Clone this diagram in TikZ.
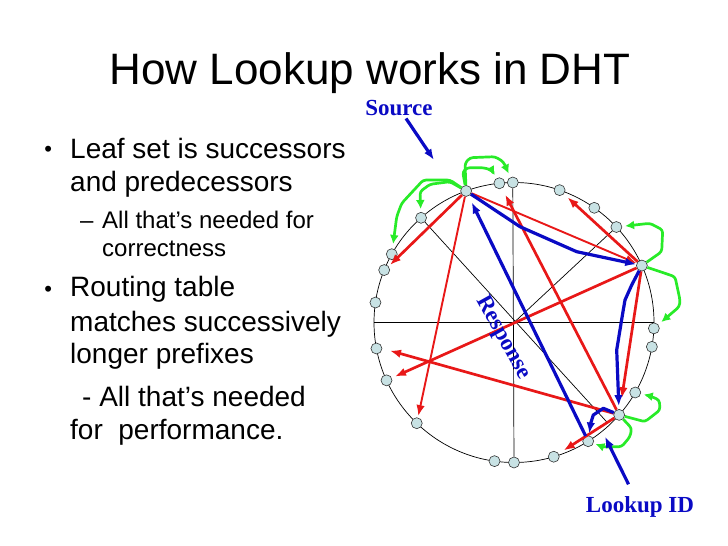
\documentclass[tikz,border=0pt]{standalone}
\usepackage{fontspec}
\setmainfont{Liberation Sans}
\newfontfamily\labelfont{Liberation Serif}
\usetikzlibrary{arrows.meta}
\definecolor{ringred}{RGB}{232,24,24}
\definecolor{ringblue}{RGB}{10,10,196}
\definecolor{ringgreen}{RGB}{40,235,40}
\definecolor{peerfill}{RGB}{200,226,228}
\tikzstyle{peer}=[circle,fill=peerfill,draw=black!80,line width=0.6pt,minimum size=11pt,inner sep=0pt]
\tikzstyle{chord}=[draw,black,line width=0.7pt]
\tikzstyle{route}=[draw,ringred,line width=2.7pt,-{Latex[length=11pt,width=8.5pt]}]
\tikzstyle{thinroute}=[route,line width=1.9pt]
\tikzstyle{lookup}=[draw,ringblue,line width=3.2pt,line join=round,-{Latex[length=11pt,width=8.5pt]}]
\tikzstyle{leaf}=[draw,ringgreen,line width=2.7pt,line join=round,rounded corners=3pt,-{Latex[length=9pt,width=9pt]}]
\tikzstyle{bodytext}=[anchor=base west,inner sep=0pt,font=\fontsize{28}{28}\selectfont]
\tikzstyle{subtext}=[anchor=base west,inner sep=0pt,font=\fontsize{24}{24}\selectfont]
\tikzstyle{dot}=[anchor=base west,inner sep=0pt,font=\fontsize{22}{22}\selectfont]
\tikzstyle{tag}=[anchor=base,inner sep=0pt,text=ringblue,font=\labelfont\bfseries\fontsize{23}{23}\selectfont]

\begin{document}
\begin{tikzpicture}[x=1pt,y=1pt]
    \useasboundingbox (0,0) rectangle (728,546);
    % Title and the bullet text
    \node[anchor=base,inner sep=0pt,font=\fontsize{44}{44}\selectfont] (title) at (370,461) {How Lookup works in DHT};
    \foreach \pos/\name in {{(44.2,389)/b1}, {(44.2,249)/b2}}
        \node[dot] (\name) at \pos {•};
    \foreach \pos/\name/\txt in {{(70,387.7)/l1/Leaf set is successors}, {(70,354.3)/l2/and predecessors},
    {(70,249.3)/l3/Routing table}, {(70,214.3)/l4/matches successively}, {(70,182.7)/l5/longer prefixes},
    {(82,139.3)/l6/- All that’s needed}, {(70,106)/l7/for\ \ performance.}}
        \node[bodytext] (\name) at \pos {\txt};
    \foreach \pos/\name/\txt in {{(80,317)/s0/–}, {(102,317)/s1/All that’s needed for}, {(102,289.3)/s2/correctness}}
        \node[subtext] (\name) at \pos {\txt};

    % First we draw the ring and the peers on it
    \begin{scope}[shift={(514,223.5)}]
    \draw[chord] (0,0) circle (140);
    \foreach \ang/\name in {110/src, 96/n96, 90.5/n90, 71/n71, 55/n55, 43/n43, 24/hopa,
    357.6/n358, 350/n350, 330/n330, 318.7/hopb, 302/dst, 286.5/n287, 270/n270, 262/n262,
    226/n226, 204.4/n204, 190.7/n191, 171.8/n172, 158/n158, 150.8/n151, 131.6/n132}
        \node[peer] (\name) at (\ang:140) {};
    \coordinate (ctr) at (0,0);
    \coordinate (hw) at (180:140);
    \coordinate (he) at (0:140);
    \coordinate (diagend) at (313:137);
    \end{scope}
    \draw[chord] (n90) -- (n270);
    \draw[chord] (hw) -- (he);
    \draw[chord] (n132) -- (diagend);
    \draw[chord] (ctr) -- (n43);

    % Routing table hops (red)
    \coordinate (rtipa) at (390,281);
    \coordinate (rtipb) at (390,195.3);
    \foreach \source/\dest/\gap in {hopa/n71/5, hopa/n204/3.5, hopa/hopb/11, hopb/n96/7, hopb/n287/6}
        \path[route,shorten >=\gap pt] (\source) -- (\dest);
    \path[route] (src) -- (rtipa);
    \path[route] (hopb) -- (rtipb);
    \path[thinroute] (src) -- (hopa);
    \path[thinroute,shorten >=1.5pt] (src) -- (n226);

    % Leaf set (green)
    \path[leaf,shorten >=3pt] (src) -- (450,364.3) -- (430,361.7) -- (420,354.3) -- (n132);
    \path[leaf,shorten >=4.5pt] (src) -- (450,366) -- (423.3,366) -- (401.7,342.7) -- (396.7,329.3) -- (n151);
    \path[leaf,shorten >=3.5pt] (src) -- (462.7,374.3) -- (467.3,378.3) -- (483.3,378.3) -- (491.7,376) -- (n96);
    \path[leaf,shorten >=4pt] (src) -- (465,382.7) -- (470,388.3) -- (495,389.3) -- (503.3,384.3) -- (n90);
    \path[leaf,shorten >=3pt] (hopa) -- (661.7,294.3) -- (662.7,316) -- (650,322.7) -- (n43);
    \path[leaf,shorten >=4pt] (hopa) -- (675,269.3) -- (680,246) -- (679.3,239.3) -- (n358);
    \path[leaf,shorten >=3pt] (hopb) -- (645,124.3) -- (660,136) -- (659.3,146) -- (650,150) -- (n330);
    \path[leaf,shorten >=2pt] (hopb) -- (631.7,117.7) -- (630,109.3) -- (621.7,99.3) -- (603.3,99) -- (dst);

    % Lookup path and response (blue)
    \node[tag] (srclbl) at (399,430.5) {Source};
    \node[tag] (idlbl) at (640,33) {Lookup ID};
    \node[tag,anchor=center,rotate=-61] (resp) at (503,208) {Response};
    \coordinate (srchead) at (434,386);
    \coordinate (idhead) at (605,109.3);
    \path[lookup,shorten <=3pt] (srclbl) -- (srchead);
    \path[lookup,shorten <=14pt] (idlbl) -- (idhead);
    \path[lookup] (src) -- (520,319.3) -- (576.7,294.3) -- (hopa);
    \path[lookup,shorten >=3pt] (hopa) -- (631.7,261) -- (625,246) -- (622.7,232.7) -- (616.7,196) -- (hopb);
    \path[lookup,shorten >=2pt] (hopb) -- (603.3,137.7) -- (593.3,131) -- (590.7,122.7) -- (dst);
    \path[lookup,shorten >=7pt] (dst) -- (src);
\end{tikzpicture}
\end{document}
